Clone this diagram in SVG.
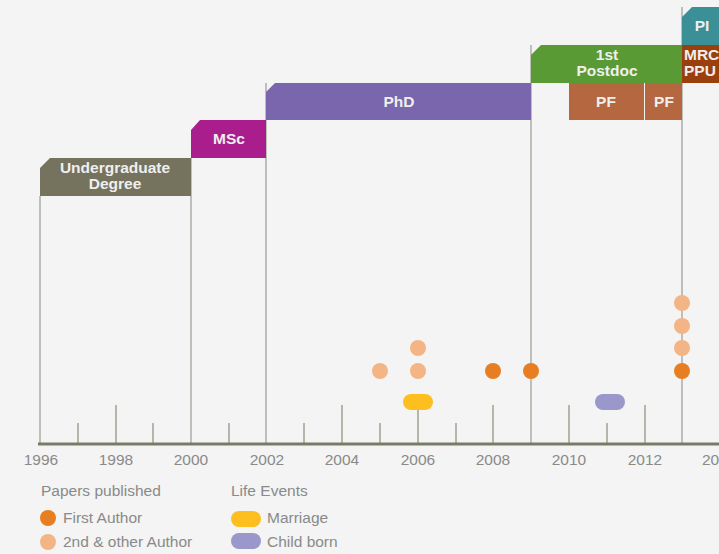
<svg xmlns="http://www.w3.org/2000/svg" width="719" height="554" viewBox="0 0 719 554">
<style>
.ph{font-family:"Liberation Sans",Arial,sans-serif;font-size:15.5px;font-weight:bold;fill:#efefef;text-anchor:middle}
.yr{font-family:"Liberation Sans",Arial,sans-serif;font-size:15.5px;fill:#8a8a8a;text-anchor:middle}
.lg{font-family:"Liberation Sans",Arial,sans-serif;font-size:15.5px;fill:#8a8a8a}
.vl{stroke:#bdbfb8;stroke-width:2}
.tk{stroke:#b5b6aa;stroke-width:2}
.p1{fill:#e87e22}
.p2{fill:#f3b585}
</style>
<rect width="719" height="554" fill="#f3f4f3"/>
<g id="connectors">
<line class="vl" x1="40" y1="196" x2="40" y2="444"/>
<line class="vl" x1="191" y1="158" x2="191" y2="444"/>
<line class="vl" x1="266" y1="83" x2="266" y2="444"/>
<line class="vl" x1="531" y1="45" x2="531" y2="444"/>
<line class="vl" x1="682" y1="7" x2="682" y2="444"/>
<g class="tk">
<line x1="78" y1="423" x2="78" y2="444"/>
<line x1="116" y1="405" x2="116" y2="444"/>
<line x1="153" y1="423" x2="153" y2="444"/>
<line x1="229" y1="423" x2="229" y2="444"/>
<line x1="304" y1="423" x2="304" y2="444"/>
<line x1="342" y1="405" x2="342" y2="444"/>
<line x1="380" y1="423" x2="380" y2="444"/>
<line x1="418" y1="405" x2="418" y2="444"/>
<line x1="456" y1="423" x2="456" y2="444"/>
<line x1="493" y1="405" x2="493" y2="444"/>
<line x1="569" y1="405" x2="569" y2="444"/>
<line x1="607" y1="423" x2="607" y2="444"/>
<line x1="645" y1="405" x2="645" y2="444"/>
</g>
<line x1="38" y1="444" x2="719" y2="444" stroke="#7b7a68" stroke-width="3"/>
</g>
<g id="axis-labels">
<text class="yr" x="41" y="465">1996</text>
<text class="yr" x="116" y="465">1998</text>
<text class="yr" x="191" y="465">2000</text>
<text class="yr" x="267" y="465">2002</text>
<text class="yr" x="342" y="465">2004</text>
<text class="yr" x="418" y="465">2006</text>
<text class="yr" x="493" y="465">2008</text>
<text class="yr" x="569" y="465">2010</text>
<text class="yr" x="645" y="465">2012</text>
<text class="yr" x="702" y="465" style="text-anchor:start">20</text>
</g>
<g id="undergrad">
<path d="M40 168 L50 158 L191 158 L191 196 L40 196 Z" fill="#75735e"/>
<text class="ph" x="115" y="173">Undergraduate</text>
<text class="ph" x="115" y="189">Degree</text>
</g>
<g id="msc">
<path d="M191 130 L200 120 L266 120 L266 158 L191 158 Z" fill="#a91e8c"/>
<text class="ph" x="229" y="144">MSc</text>
</g>
<g id="phd">
<path d="M266 92 L275 83 L531 83 L531 120 L266 120 Z" fill="#7a66ad"/>
<text class="ph" x="399" y="107">PhD</text>
</g>
<g id="postdoc">
<path d="M531 55 L541 45 L682 45 L682 83 L531 83 Z" fill="#5a9a35"/>
<text class="ph" x="607" y="60">1st</text>
<text class="ph" x="607" y="76">Postdoc</text>
</g>
<g id="pf1">
<rect x="569" y="83" width="75" height="37" fill="#b5673f"/>
<text class="ph" x="606" y="107">PF</text>
</g>
<g id="pf2">
<rect x="645" y="83" width="37" height="37" fill="#b5673f"/>
<text class="ph" x="664" y="107">PF</text>
</g>
<g id="pi">
<path d="M682 17 L692 7 L719 7 L719 45 L682 45 Z" fill="#3a9096"/>
<text class="ph" x="702" y="31">PI</text>
</g>
<g id="mrc">
<rect x="682" y="45" width="37" height="38" fill="#9b3f0c"/>
<text class="ph" x="684" y="60" style="text-anchor:start">MRC</text>
<text class="ph" x="684" y="76" style="text-anchor:start">PPU</text>
</g>
<g id="papers">
<circle class="p2" cx="380" cy="371" r="8"/>
<circle class="p2" cx="418" cy="371" r="8"/>
<circle class="p2" cx="418" cy="348" r="8"/>
<circle class="p1" cx="493" cy="371" r="8"/>
<circle class="p1" cx="531" cy="371" r="8"/>
<circle class="p1" cx="682" cy="371" r="8"/>
<circle class="p2" cx="682" cy="348" r="8"/>
<circle class="p2" cx="682" cy="326" r="8"/>
<circle class="p2" cx="682" cy="303" r="8"/>
</g>
<g id="events">
<rect x="403" y="394" width="30" height="16" rx="8" fill="#fdbf1f"/>
<rect x="595" y="394" width="30" height="16" rx="8" fill="#9a98cb"/>
</g>
<g id="legend">
<text class="lg" x="41" y="496">Papers published</text>
<circle class="p1" cx="48" cy="518" r="8"/>
<text class="lg" x="63" y="523">First Author</text>
<circle class="p2" cx="48" cy="542" r="8"/>
<text class="lg" x="63" y="547">2nd &amp; other Author</text>
<text class="lg" x="231" y="496">Life Events</text>
<rect x="231" y="511" width="30" height="16" rx="8" fill="#fdbf1f"/>
<text class="lg" x="267" y="523">Marriage</text>
<rect x="231" y="533" width="30" height="16" rx="8" fill="#9a98cb"/>
<text class="lg" x="267" y="547">Child born</text>
</g>
</svg>
